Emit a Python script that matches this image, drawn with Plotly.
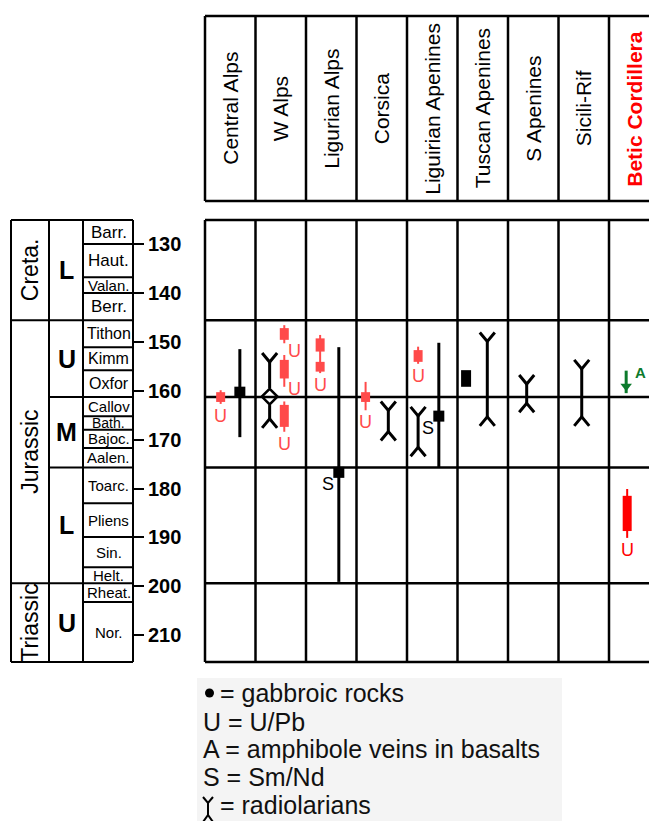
import plotly.graph_objects as go

W, H = 649, 821
FONT = "Arial, Liberation Sans, sans-serif"
BLACK = "#000000"
RED_SOFT = "#ff4a4a"
RED = "#ff0000"
GREEN = "#0c7a2c"

# ---------------- data ----------------
regions = ["Central Alps", "W Alps", "Ligurian Alps", "Corsica", "Liguirian Apenines",
           "Tuscan Apenines", "S Apenines", "Sicili-Rif", "Betic Cordillera"]

period_names = ["Creta.", "Jurassic", "Triassic"]
period_bounds = [125.1, 145.6, 199.4, 215.5]

epoch_names = ["L", "U", "M", "L", "U"]
epoch_bounds = [125.1, 145.6, 161.3, 175.7, 199.4, 215.5]

stage_names = ["Barr.", "Haut.", "Valan.", "Berr.", "Tithon", "Kimm", "Oxfor", "Callov", "Bath.",
               "Bajoc.", "Aalen.", "Toarc.", "Pliens", "Sin.", "Helt.", "Rheat.", "Nor."]
stage_bounds = [125.1, 130.0, 136.8, 140.0, 145.6, 151.1, 155.8, 161.3, 165.2, 168.0, 171.7,
                175.7, 183.0, 189.9, 196.1, 199.4, 203.2, 215.5]

tick_vals = [130, 140, 150, 160, 170, 180, 190, 200, 210]
tick_text = ["130", "140", "150", "160", "170", "180", "190", "200", "210"]

# U/Pb ages: thin line = full range, thick part(s) = core
upb_region = ["Central Alps", "W Alps", "W Alps", "W Alps", "Ligurian Alps", "Corsica",
              "Liguirian Apenines", "Betic Cordillera"]
upb_min = [159.9, 146.6, 152.7, 162.2, 148.6, 158.2, 151.0, 180.1]
upb_max = [162.7, 150.3, 159.2, 168.4, 156.4, 164.0, 154.5, 190.1]
upb_core_min = [[160.3], [147.2], [153.7], [162.9], [149.3, 154.1], [160.3], [151.7], [181.5]]
upb_core_max = [[162.3], [149.6], [157.5], [167.4], [152.0, 156.1], [162.3], [154.1], [188.7]]

# gabbroic rocks: age (square) and range (line)
gab_region = ["Central Alps", "Ligurian Alps", "Liguirian Apenines"]
gab_age = [160.3, 176.7, 165.2]
gab_min = [151.5, 151.1, 150.2]
gab_max = [169.5, 199.1, 175.6]
gab_smnd = [False, True, True]

gab_block_region = ["Tuscan Apenines"]
gab_block_min = [155.8]
gab_block_max = [159.2]

# radiolarian ranges
rad_region = ["W Alps", "Corsica", "Liguirian Apenines", "Tuscan Apenines", "S Apenines", "Sicili-Rif"]
rad_min = [152.3, 162.2, 163.3, 148.1, 156.8, 153.7]
rad_max = [167.6, 170.2, 173.4, 167.2, 164.4, 167.2]
rad_node = [161.2, None, None, None, None, None]

# amphibole veins in basalts
amph_region = ["Betic Cordillera"]
amph_min = [155.9]
amph_max = [160.5]

legend_labels = ["= gabbroic rocks", "U = U/Pb", "A = amphibole veins in basalts", "S = Sm/Nd", "= radiolarians"]

# ---------------- layout / styles ----------------
upb_slot = {"Central Alps": 0.31, "W Alps": 0.57, "Ligurian Alps": 0.28, "Corsica": 0.18,
            "Liguirian Apenines": 0.22, "Betic Cordillera": 0.36}
gab_slot = {"Central Alps": 0.69, "Ligurian Alps": 0.65, "Liguirian Apenines": 0.63, "Tuscan Apenines": 0.17}
rad_slot = {"W Alps": 0.28, "Corsica": 0.63, "Liguirian Apenines": 0.22, "Tuscan Apenines": 0.59,
            "S Apenines": 0.37, "Sicili-Rif": 0.46}
amph_slot = {"Betic Cordillera": 0.34}
upb_label_shift = {1: (10, 4), 2: (10, 10)}
stage_font = {"Barr.": 17, "Haut.": 17, "Berr.": 17, "Tithon": 16, "Kimm": 16, "Oxfor": 16,
              "Toarc.": 15, "Pliens": 15, "Sin.": 15, "Nor.": 15, "Valan.": 15, "Callov": 15,
              "Bath.": 14, "Bajoc.": 15, "Aalen.": 15, "Helt.": 15, "Rheat.": 15}

COL_PX = 50.5          # px per column
MA_PX = 4.89           # px per Ma
Y0_PX, Y0_AGE = 244, 130
GRID_W = 2.5


def age_at(py):
    return Y0_AGE + (py - Y0_PX) / MA_PX


def px(xp):
    return xp / W


def py(yp):
    return 1 - yp / H


def cx(region, slot):
    return regions.index(region) + slot


fig = go.Figure()
shapes = []
annotations = []


def seg(x0, y0, x1, y1, xref, yref, width=GRID_W, color=BLACK):
    shapes.append(dict(type="line", x0=x0, y0=y0, x1=x1, y1=y1, xref=xref, yref=yref,
                       line=dict(color=color, width=width), layer="below"))


def add_line(xs, ys, color, width):
    fig.add_trace(go.Scatter(x=xs, y=ys, mode="lines", line=dict(color=color, width=width),
                             hoverinfo="skip", showlegend=False))


def note(**kw):
    kw.setdefault("showarrow", False)
    kw.setdefault("xanchor", "center")
    kw.setdefault("yanchor", "middle")
    annotations.append(kw)


# ---------- header box ----------
ncol = len(regions)
for i in range(ncol + 1):
    seg(i, py(16), i, py(201), "x", "paper")
seg(0, py(16), ncol, py(16), "x", "paper")
seg(0, py(201), ncol, py(201), "x", "paper")
for i, name in enumerate(regions):
    betic = name == "Betic Cordillera"
    note(x=i + 0.5, y=py(108.5), xref="x", yref="paper", text=name, textangle=-90,
         font=dict(family=FONT, size=21, color=RED if betic else BLACK,
                   weight="bold" if betic else "normal"))

# ---------- main grid ----------
for i in range(ncol + 1):
    seg(i, epoch_bounds[0], i, epoch_bounds[-1], "x", "y")
for b in epoch_bounds:
    seg(0, b, ncol, b, "x", "y")

# ---------- stratigraphic table ----------
TX = [11, 49, 83, 133]
for xp_ in TX:
    seg(px(xp_), period_bounds[0], px(xp_), period_bounds[-1], "paper", "y", width=2)
for b in period_bounds:
    seg(px(TX[0]), b, px(TX[1]), b, "paper", "y", width=2)
for b in epoch_bounds:
    seg(px(TX[1]), b, px(TX[2]), b, "paper", "y", width=2)
for b in stage_bounds:
    seg(px(TX[2]), b, px(TX[3]), b, "paper", "y", width=2)

for k, name in enumerate(period_names):
    note(x=px(30), y=(period_bounds[k] + period_bounds[k + 1]) / 2, xref="paper", yref="y",
         text=name, textangle=-90, font=dict(family=FONT, size=23, color=BLACK))
for k, name in enumerate(epoch_names):
    note(x=px(66.5), y=(epoch_bounds[k] + epoch_bounds[k + 1]) / 2, xref="paper", yref="y",
         text=name, font=dict(family=FONT, size=25, color=BLACK, weight="bold"))
for k, name in enumerate(stage_names):
    note(x=px(108.5), y=(stage_bounds[k] + stage_bounds[k + 1]) / 2, xref="paper", yref="y",
         text=name, font=dict(family=FONT, size=stage_font.get(name, 15), color=BLACK))

# ---------- gabbro ----------
for k, reg in enumerate(gab_region):
    x = cx(reg, gab_slot[reg])
    add_line([x, x], [gab_min[k], gab_max[k]], BLACK, 3)
    fig.add_trace(go.Scatter(x=[x], y=[gab_age[k]], mode="markers",
                             marker=dict(symbol="square", size=11, color=BLACK),
                             hoverinfo="skip", showlegend=False))
    if gab_smnd[k]:
        note(x=x, y=gab_age[k], xref="x", yref="y", text="S",
             xshift=-11, yshift=-12, font=dict(family=FONT, size=18, color=BLACK))
for k, reg in enumerate(gab_block_region):
    x = cx(reg, gab_slot[reg])
    hw = 5 / COL_PX
    shapes.append(dict(type="rect", xref="x", yref="y", x0=x - hw, x1=x + hw,
                       y0=gab_block_min[k], y1=gab_block_max[k],
                       fillcolor=BLACK, line=dict(width=0), layer="above"))

# ---------- radiolarians ----------
DX = 7.5 / COL_PX
DY = 9 / MA_PX
DH = 8.5 / MA_PX
for k, reg in enumerate(rad_region):
    x = cx(reg, rad_slot[reg])
    t, b = rad_min[k], rad_max[k]
    xs = [x - DX, x, x + DX, None, x - DX, x, x + DX, None]
    ys = [t, t + DY, t, None, b, b - DY, b, None]
    if rad_node[k] is None:
        xs += [x, x]
        ys += [t + DY, b - DY]
    else:
        n = rad_node[k]
        xs += [x, x, None, x, x]
        ys += [t + DY, n - DH, None, n + DH, b - DY]
        fig.add_trace(go.Scatter(x=[x], y=[n], mode="markers",
                                 marker=dict(symbol="diamond-open", size=12, color=BLACK,
                                             line=dict(color=BLACK, width=2.5)),
                                 hoverinfo="skip", showlegend=False))
    add_line(xs, ys, BLACK, 3)

# ---------- U/Pb ----------
for k, reg in enumerate(upb_region):
    x = cx(reg, upb_slot[reg])
    col = RED if reg == "Betic Cordillera" else RED_SOFT
    add_line([x, x], [upb_min[k], upb_max[k]], col, 2)
    for c0, c1 in zip(upb_core_min[k], upb_core_max[k]):
        add_line([x, x], [c0, c1], col, 9)
    sx, sy = upb_label_shift.get(k, (0, 0))
    note(x=x, y=upb_max[k], xref="x", yref="y", text="U", yanchor="top", xshift=sx, yshift=sy,
         font=dict(family=FONT, size=18, color=col))

# ---------- amphibole ----------
for k, reg in enumerate(amph_region):
    x = cx(reg, amph_slot[reg])
    add_line([x, x], [amph_min[k], amph_max[k]], GREEN, 3)
    fig.add_trace(go.Scatter(x=[x], y=[amph_max[k] - 7 / MA_PX], mode="markers",
                             marker=dict(symbol="triangle-down", size=10, color=GREEN),
                             hoverinfo="skip", showlegend=False))
    note(x=x, y=amph_min[k], xref="x", yref="y", text="A",
         xshift=14, yshift=-2, font=dict(family=FONT, size=15, color=GREEN, weight="bold"))

# ---------- legend box ----------
shapes.append(dict(type="rect", xref="paper", yref="paper", x0=px(197), x1=px(562), y0=0, y1=py(678),
                   fillcolor="#f4f4f4", line=dict(width=0), layer="below"))
shapes.append(dict(type="circle", xref="paper", yref="paper", x0=px(205), x1=px(214), y0=py(697.5), y1=py(688.5),
                   fillcolor=BLACK, line=dict(width=0), layer="above"))
rad_leg = [(203, 797), (208, 803), (213, 797), None, (208, 803), (208, 815), None, (203, 822), (208, 815), (213, 822)]
path = ""
move = True
for p in rad_leg:
    if p is None:
        move = True
        continue
    path += ("M" if move else "L") + f"{px(p[0]):.5f},{py(p[1]):.5f} "
    move = False
shapes.append(dict(type="path", xref="paper", yref="paper", path=path.strip(),
                   line=dict(color=BLACK, width=2), layer="above"))
leg_y = [693, 721.5, 749, 776.5, 805]
leg_x = [218, 201, 201, 201, 218]
for k, lab in enumerate(legend_labels):
    note(x=px(leg_x[k]), y=py(leg_y[k]), xref="paper", yref="paper", text=lab, xanchor="left",
         font=dict(family=FONT, size=25, color="#111111"))

fig.update_layout(
    width=W, height=H, margin=dict(l=0, r=0, t=0, b=0),
    paper_bgcolor="white", plot_bgcolor="rgba(0,0,0,0)",
    xaxis=dict(domain=[200 / W, 1], range=[-5 / COL_PX, (W - 205) / COL_PX], visible=False, fixedrange=True),
    yaxis=dict(domain=[py(666), py(216)], range=[age_at(666), age_at(216)],
               anchor="free", position=133 / W, side="right",
               tickvals=tick_vals, ticktext=tick_text, ticks="outside", ticklen=10, tickwidth=2,
               tickcolor=BLACK, showgrid=False, zeroline=False, showline=False, fixedrange=True,
               tickfont=dict(family=FONT, size=20, color=BLACK, weight="bold")),
    shapes=shapes, annotations=annotations, showlegend=False,
)

fig.write_html("out.html", config={"displayModeBar": False},
               post_script="document.body.style.margin='0';")
